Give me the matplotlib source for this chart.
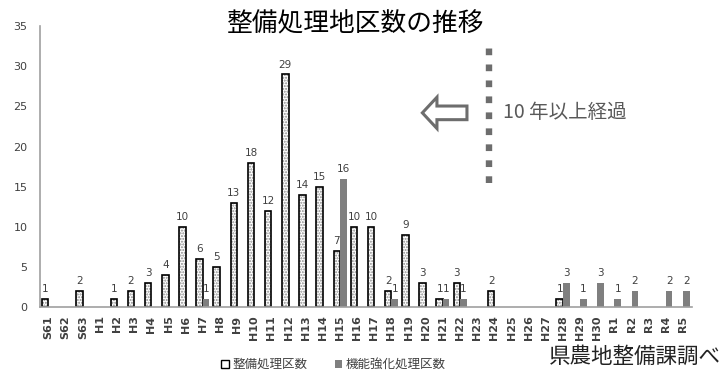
import matplotlib
matplotlib.use("Agg")
import matplotlib.pyplot as plt
import numpy as np
from matplotlib.patches import Patch, FancyArrow

plt.rcParams['font.family'] = ['Noto Sans CJK JP', 'DejaVu Sans']

categories = ["S61", "S62", "S63"] + [f"H{i}" for i in range(1, 31)] + [f"R{i}" for i in range(1, 6)]
seibi = [1, 0, 2, 0, 1, 2, 3, 4, 10, 6, 5, 13, 18, 12, 29, 14, 15, 7, 10, 10,
         2, 9, 3, 1, 3, 0, 2, 0, 0, 0, 1, 0, 0, 0, 0, 0, 0, 0]
kinou = [0, 0, 0, 0, 0, 0, 0, 0, 0, 1, 0, 0, 0, 0, 0, 0, 0, 16, 0, 0,
         1, 0, 0, 1, 1, 0, 0, 0, 0, 0, 3, 1, 3, 1, 2, 0, 2, 2]
series_names = ["整備処理区数", "機能強化処理区数"]
title = "整備処理地区数の推移"
note = "10 年以上経過"
source = "県農地整備課調べ"

fig = plt.figure(figsize=(7.25, 3.74), dpi=100)
ax = fig.add_axes([0.055, 0.179, 0.899, 0.751])

x = np.arange(len(categories))
w = 0.38
s1 = np.array(seibi)
s2 = np.array(kinou)
m1 = s1 > 0
m2 = s2 > 0

ax.bar(x[m1] - w / 2, s1[m1], w, facecolor="white", edgecolor="#8a8a8a",
       hatch="......", linewidth=0)
ax.bar(x[m1] - w / 2, s1[m1], w, fill=False, edgecolor="black", linewidth=1.2)
ax.bar(x[m2] + w / 2, s2[m2], w, color="#7f7f7f", linewidth=0)

for xi, v in zip(x[m1], s1[m1]):
    ax.text(xi - w / 2, v + 0.6, str(v), ha="center", va="bottom", fontsize=7.5,
            color="#404040", family=["DejaVu Sans"])
for xi, v in zip(x[m2], s2[m2]):
    ax.text(xi + w / 2, v + 0.6, str(v), ha="center", va="bottom", fontsize=7.5,
            color="#404040", family=["DejaVu Sans"])

ax.set_xlim(-0.5, len(categories) - 0.5)
ax.set_ylim(0, 35)
ax.set_yticks(np.arange(0, 36, 5))
ax.set_xticks(x)
ax.set_xticklabels(categories, rotation=90, fontsize=8, fontweight="bold",
                   color="#404040", family=["DejaVu Sans"])
for lab in ax.get_yticklabels():
    lab.set_family(["DejaVu Sans"])
ax.tick_params(axis="y", length=0, labelsize=8, labelcolor="#404040", pad=9)
ax.tick_params(axis="x", length=0, pad=6)
for s in ["top", "right"]:
    ax.spines[s].set_visible(False)
ax.spines["left"].set_color("#a0a0a0")
ax.spines["bottom"].set_color("#a0a0a0")
ax.spines["left"].set_linewidth(1.2)
ax.spines["bottom"].set_linewidth(1.2)

fig.text(0.491, 0.935, title, ha="center", va="center", fontsize=18.5, color="black")

# dotted vertical line and arrow
ax.plot([25.66, 25.66], [15.4, 32.3], color="#6d6d6d", linewidth=4.6,
        linestyle=(0, (1.05, 1.45)), solid_capstyle="butt")
arrow = FancyArrow(24.4, 24.2, -2.6, 0, width=1.7, head_width=3.9,
                   head_length=0.85, length_includes_head=True,
                   facecolor="white", edgecolor="#6d6d6d", linewidth=2.2)
ax.add_patch(arrow)
ax.text(26.5, 24.2, note, ha="left", va="center", fontsize=14, color="#595959")

fig.text(0.995, 0.045, source, ha="right", va="center", fontsize=15.5, color="#222222")

handles = [Patch(facecolor="white", edgecolor="black", linewidth=1.0),
           Patch(facecolor="#7f7f7f", edgecolor="none")]
fig.legend(handles, series_names, loc="center", bbox_to_anchor=(0.46, 0.025),
           ncol=2, frameon=False, fontsize=9, handlelength=0.6, handleheight=0.6,
           handletextpad=0.3, columnspacing=2.2, labelcolor="#404040")

fig.savefig("out.png", dpi=100)
